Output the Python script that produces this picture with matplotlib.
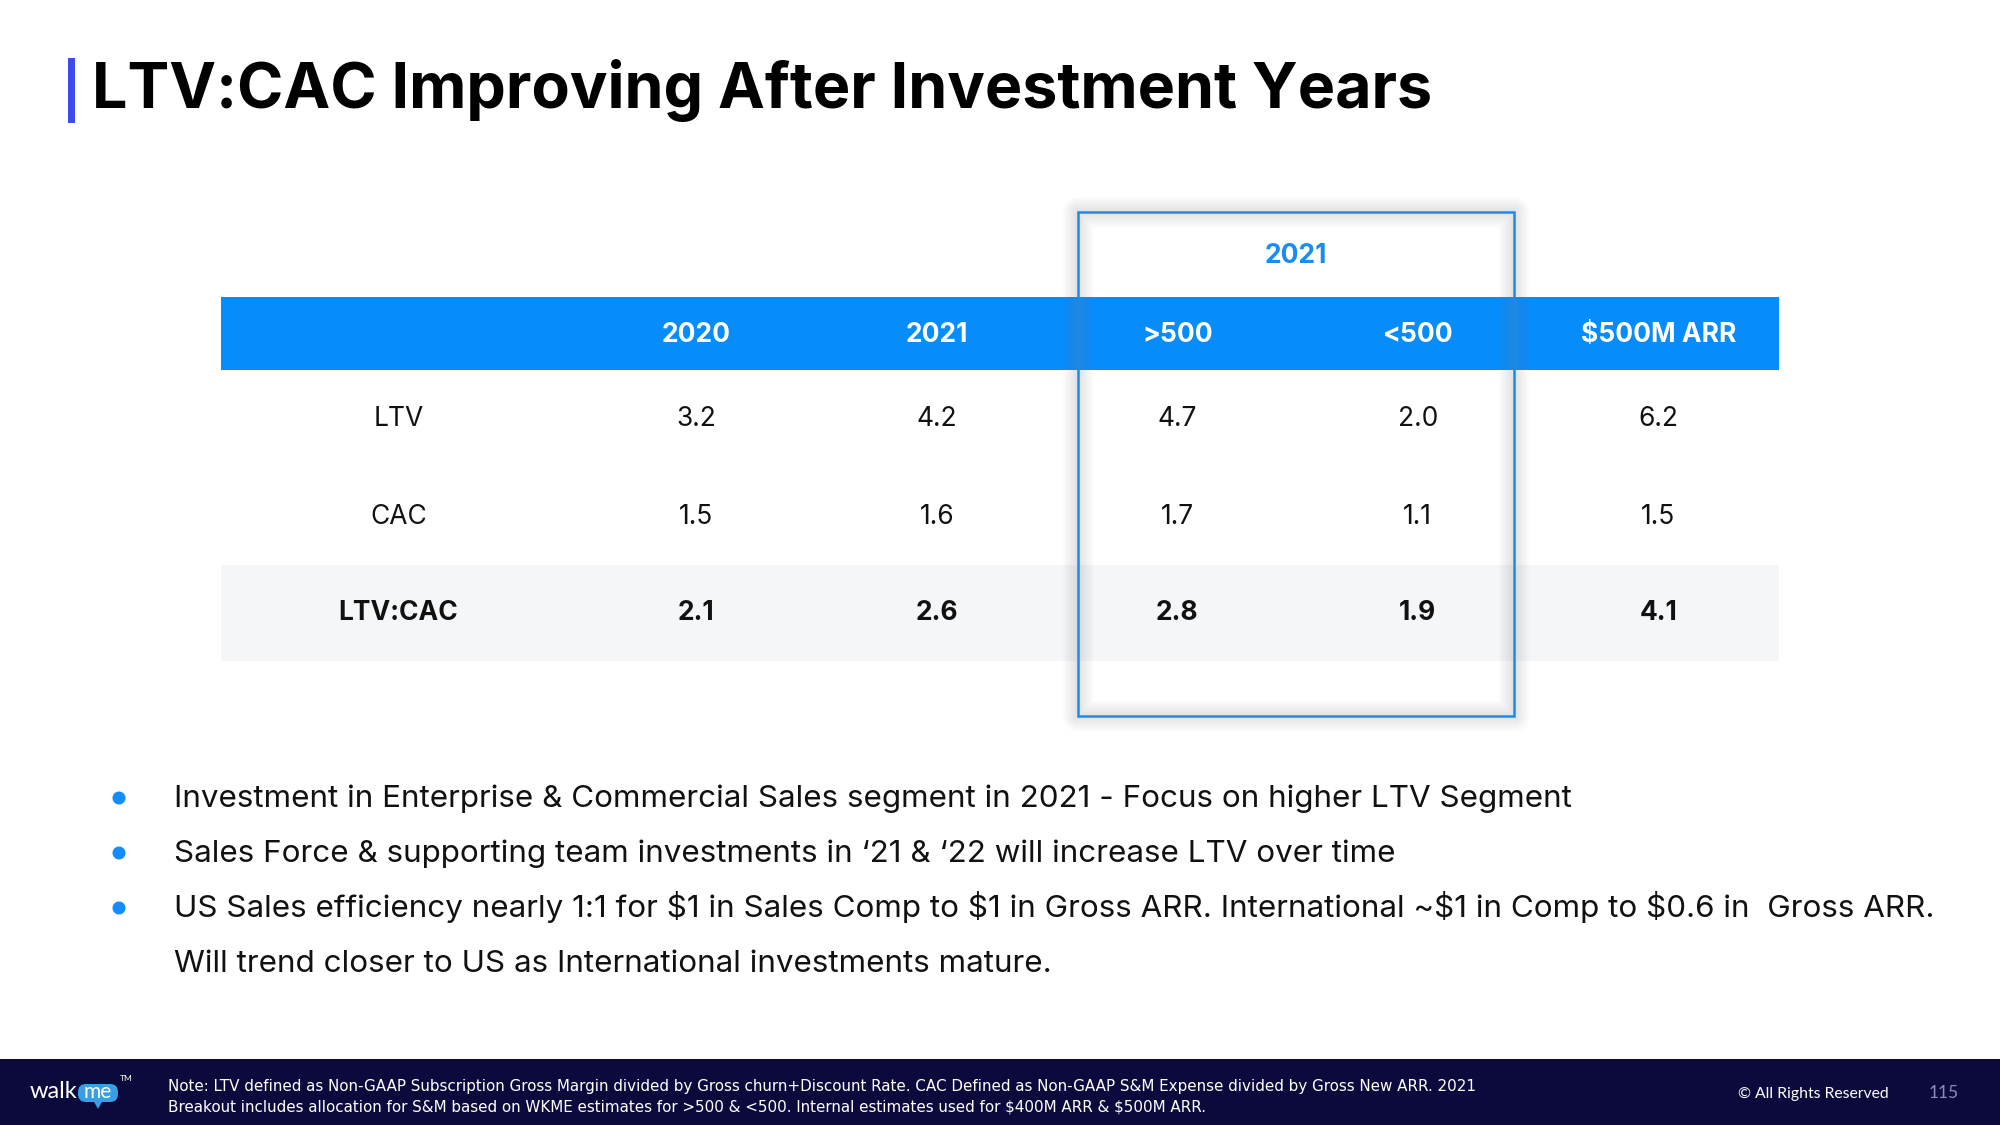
import matplotlib
matplotlib.use("Agg")
import matplotlib.pyplot as plt
from matplotlib.patches import Rectangle, FancyBboxPatch, Polygon, Circle

plt.rcParams["text.parse_math"] = False

# Table data
columns = ["2020", "2021", ">500", "<500", "$500M ARR"]
row_labels = ["LTV", "CAC", "LTV:CAC"]
ltv = [3.2, 4.2, 4.7, 2.0, 6.2]
cac = [1.5, 1.6, 1.7, 1.1, 1.5]
ltv_cac = [2.1, 2.6, 2.8, 1.9, 4.1]
group_label = "2021"
group_cols = [2, 3]

title = "LTV:CAC Improving After Investment Years"
bullets = [
    "Investment in Enterprise & Commercial Sales segment in 2021 - Focus on higher LTV Segment",
    "Sales Force & supporting team investments in \u201821 & \u201822 will increase LTV over time",
    "US Sales efficiency nearly 1:1 for $1 in Sales Comp to $1 in Gross ARR. International ~$1 in Comp to $0.6 in  Gross ARR.",
]
bullet_cont = "Will trend closer to US as International investments mature."
note_lines = [
    "Note: LTV defined as Non-GAAP Subscription Gross Margin divided by Gross churn+Discount Rate. CAC Defined as Non-GAAP S&M Expense divided by Gross New ARR. 2021",
    "Breakout includes allocation for S&M based on WKME estimates for >500 & <500. Internal estimates used for $400M ARR & $500M ARR.",
]

BLUE = "#078cfb"
NAVY = "#0c0a3c"
FONT = "Inter"

fig = plt.figure(figsize=(20, 11.25), dpi=100)
ax = fig.add_axes([0, 0, 1, 1])
ax.set_xlim(0, 2000)
ax.set_ylim(1125, 0)
ax.axis("off")

# title
ax.add_patch(Rectangle((68, 58), 7, 65, color="#3d4af2", lw=0))
ax.text(92, 108, title, fontsize=45.2, fontweight="bold", family=FONT,
        color="black", va="baseline", ha="left")

# table layout
table_left, label_w, col_w = 221, 355, 240.5
table_right = table_left + label_w + col_w * len(columns)
col_x = [table_left + label_w + col_w * (i + 0.5) for i in range(len(columns))]
label_x = table_left + label_w / 2
row_base = [426, 524, 620]

ax.add_patch(Rectangle((table_left, 297), table_right - table_left, 73, color=BLUE, lw=0))
ax.add_patch(Rectangle((table_left, 565), table_right - table_left, 96, color="#f4f6f8", lw=0))

for x, c in zip(col_x, columns):
    ax.text(x, 342, c, fontsize=19, fontweight="bold", family=FONT, color="white",
            ha="center", va="baseline")

rows = [ltv, cac, ltv_cac]
for r, (lab, vals) in enumerate(zip(row_labels, rows)):
    bold = lab == "LTV:CAC"
    w = "bold" if bold else "normal"
    ax.text(label_x, row_base[r], lab, fontsize=19, fontweight=w, family=FONT,
            color="#111111", ha="center", va="baseline")
    for x, v in zip(col_x, vals):
        ax.text(x, row_base[r], f"{v:.1f}", fontsize=19, fontweight=w, family=FONT,
                color="#111111", ha="center", va="baseline")

# highlight box around the 2021 breakout
gx = (col_x[group_cols[0]] + col_x[group_cols[-1]]) / 2
bx0, bx1 = gx - 220, gx + 216
by0, by1 = 212, 716
for lw_ in range(22, 0, -3):
    ax.add_patch(Rectangle((bx0, by0), bx1 - bx0, by1 - by0, fill=False,
                           ec="#808890", lw=lw_, alpha=0.03, joinstyle="round"))
ax.add_patch(Rectangle((bx0, by0), bx1 - bx0, by1 - by0, fill=False, ec="#1f8ae6", lw=1.8))
ax.text(gx - 2, 263, group_label, fontsize=19, fontweight="bold", family=FONT,
        color="#1a8cf0", ha="center", va="baseline")

# bullets
line_base = [807, 862, 917, 972]
for i, b in enumerate(bullets):
    ax.add_patch(Circle((119, line_base[i] - 9), 6.5, color="#158cfb", lw=0))
    ax.text(174, line_base[i], b, fontsize=22.6, family=FONT, color="#111111",
            ha="left", va="baseline")
ax.text(174, line_base[3], bullet_cont, fontsize=22.6, family=FONT, color="#111111",
        ha="left", va="baseline")

# footer
ax.add_patch(Rectangle((0, 1059), 2000, 66, color=NAVY, lw=0))
for i, line in enumerate(note_lines):
    ax.text(168, 1091 + 21 * i, line, fontsize=10.9, family="Liberation Sans Narrow",
            color="white", ha="left", va="baseline")
ax.text(1738, 1098, "\u00a9 All Rights Reserved", fontsize=11.3, family="Lato",
        color="white", ha="left", va="baseline")
ax.text(1944, 1098, "115", fontsize=12.5, family="Lato", color="#8a8db8",
        ha="center", va="baseline")

# walkme logo
ax.text(30, 1098, "walk", fontsize=17, family="Lato", color="white",
        ha="left", va="baseline")
ax.add_patch(FancyBboxPatch((78, 1084), 40, 18, boxstyle="round,pad=0,rounding_size=8",
                            fc="#3a9ee6", ec="none"))
ax.add_patch(Polygon([[93, 1100], [103, 1100], [98, 1109]], closed=True, fc="#3a9ee6", ec="none"))
ax.text(98, 1098, "me", fontsize=15, family="Lato", color="white", ha="center", va="baseline")
ax.text(120, 1081, "TM", fontsize=6, family="Lato", color="white", ha="left", va="baseline")

fig.savefig("out.png", dpi=100)
